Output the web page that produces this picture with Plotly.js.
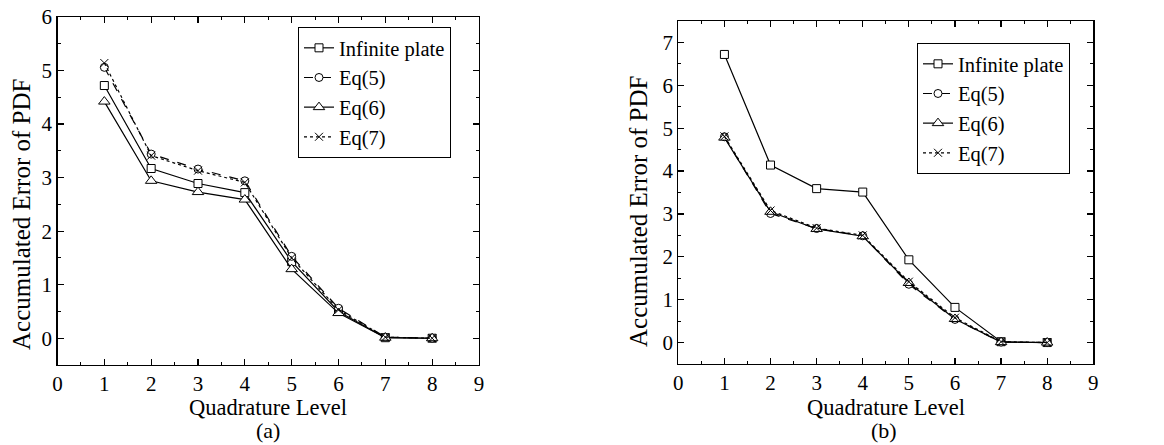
<!DOCTYPE html>
<html>
<head>
<meta charset="utf-8">
<script src="https://cdn.plot.ly/plotly-3.0.1.min.js"></script>
<style>html,body{margin:0;padding:0;background:#fff}#chart{width:1164px;height:445px}</style>
</head>
<body>
<div id="chart"></div>
<script>
const levels = [1, 2, 3, 4, 5, 6, 7, 8];
const seriesNames = ["Infinite plate", "Eq(5)", "Eq(6)", "Eq(7)"];

// Panel (a)
const a_infinite = [4.72, 3.17, 2.89, 2.72, 1.43, 0.50, 0.01, 0.00];
const a_eq5      = [5.06, 3.44, 3.16, 2.94, 1.53, 0.56, 0.02, 0.00];
const a_eq6      = [4.42, 2.94, 2.73, 2.59, 1.29, 0.47, 0.01, 0.00];
const a_eq7      = [5.14, 3.41, 3.13, 2.91, 1.50, 0.53, 0.02, 0.00];

// Panel (b)
const b_infinite = [6.72, 4.14, 3.59, 3.51, 1.93, 0.82, 0.02, 0.00];
const b_eq5      = [4.80, 3.01, 2.66, 2.49, 1.36, 0.54, 0.01, 0.00];
const b_eq6      = [4.78, 3.05, 2.65, 2.48, 1.39, 0.55, 0.01, 0.00];
const b_eq7      = [4.81, 3.08, 2.67, 2.50, 1.42, 0.58, 0.02, 0.00];

const xTickVals = [0,1,2,3,4,5,6,7,8,9];
const yTickValsA = [0,1,2,3,4,5,6];
const yTickValsB = [0,1,2,3,4,5,6,7];

const FONT = "Liberation Serif";
const styles = [
  {dash: "solid", symbol: "square", size: 8, fill: "#fff"},
  {dash: "dash",  symbol: "circle", size: 8, fill: "#fff"},
  {dash: "solid", symbol: "triangle-up", size: 10, fill: "#fff"},
  {dash: "dot",   symbol: "x-thin-open", size: 8, fill: "#000"}
];

function mk(y, i, xa, ya, lg) {
  return {
    x: levels, y: y, name: seriesNames[i], type: "scatter", mode: "lines+markers",
    xaxis: xa, yaxis: ya, legend: lg,
    line: {color: "#000", width: 1.2, dash: styles[i].dash},
    marker: {symbol: styles[i].symbol, size: styles[i].size, color: styles[i].fill,
             line: {color: "#000", width: 1}}
  };
}

const data = [
  mk(a_infinite, 0, "x", "y", "legend"),
  mk(a_eq5, 1, "x", "y", "legend"),
  mk(a_eq6, 2, "x", "y", "legend"),
  mk(a_eq7, 3, "x", "y", "legend"),
  mk(b_infinite, 0, "x2", "y2", "legend2"),
  mk(b_eq5, 1, "x2", "y2", "legend2"),
  mk(b_eq6, 2, "x2", "y2", "legend2"),
  mk(b_eq7, 3, "x2", "y2", "legend2")
];

function axisBase(extra) {
  return Object.assign({
    showline: true, linecolor: "#000", linewidth: 1.2, mirror: "allticks",
    ticks: "inside", ticklen: 6, tickwidth: 1.2, tickcolor: "#000",
    showgrid: false, zeroline: false,
    tickfont: {family: FONT, size: 21, color: "#000"},
    minor: {ticks: "inside", ticklen: 3, tickwidth: 1, tickcolor: "#000", dtick: 0.5, showgrid: false}
  }, extra);
}

const legendBase = {
  font: {family: FONT, size: 20.5, color: "#000"},
  bgcolor: "#fff", bordercolor: "#000", borderwidth: 1,
  xanchor: "left", yanchor: "top", tracegroupgap: 0
};

function ann(text, x, y, angle, size) {
  return {text: text, textangle: angle || 0, x: x/1164, y: 1 - y/445, xref: "paper", yref: "paper",
          xanchor: "center", yanchor: "middle", showarrow: false,
          font: {family: FONT, size: size || 22.5, color: "#000"}};
}

const layout = {
  width: 1164, height: 445,
  margin: {l: 0, r: 0, t: 0, b: 0},
  paper_bgcolor: "#fff", plot_bgcolor: "#fff",
  showlegend: true,
  xaxis: axisBase({domain: [57.5/1164, 479/1164], range: [0, 9], tickvals: xTickVals, anchor: "y"}),
  yaxis: axisBase({domain: [1-365/445, 1-17/445], range: [-0.5, 6], tickvals: yTickValsA, anchor: "x"}),
  xaxis2: axisBase({domain: [678.3/1164, 1093.3/1164], range: [0, 9], tickvals: xTickVals, anchor: "y2"}),
  yaxis2: axisBase({domain: [1-364/445, 1-21/445], range: [-0.5, 7.5], tickvals: yTickValsB, anchor: "x2"}),
  legend: Object.assign({}, legendBase, {x: 298/1164, y: 1-27/445}),
  legend2: Object.assign({}, legendBase, {x: 917/1164, y: 1-43/445}),
  annotations: [
    ann("Accumulated Error of PDF", 21, 215, -90, 25),
    ann("Accumulated Error of PDF", 638, 212, -90, 25),
    ann("Quadrature Level", 268, 407),
    ann("Quadrature Level", 886, 407),
    ann("(a)", 268, 430, 0, 22),
    ann("(b)", 884, 430, 0, 22)
  ]
};

Plotly.newPlot("chart", data, layout, {staticPlot: true});
</script>
</body>
</html>
